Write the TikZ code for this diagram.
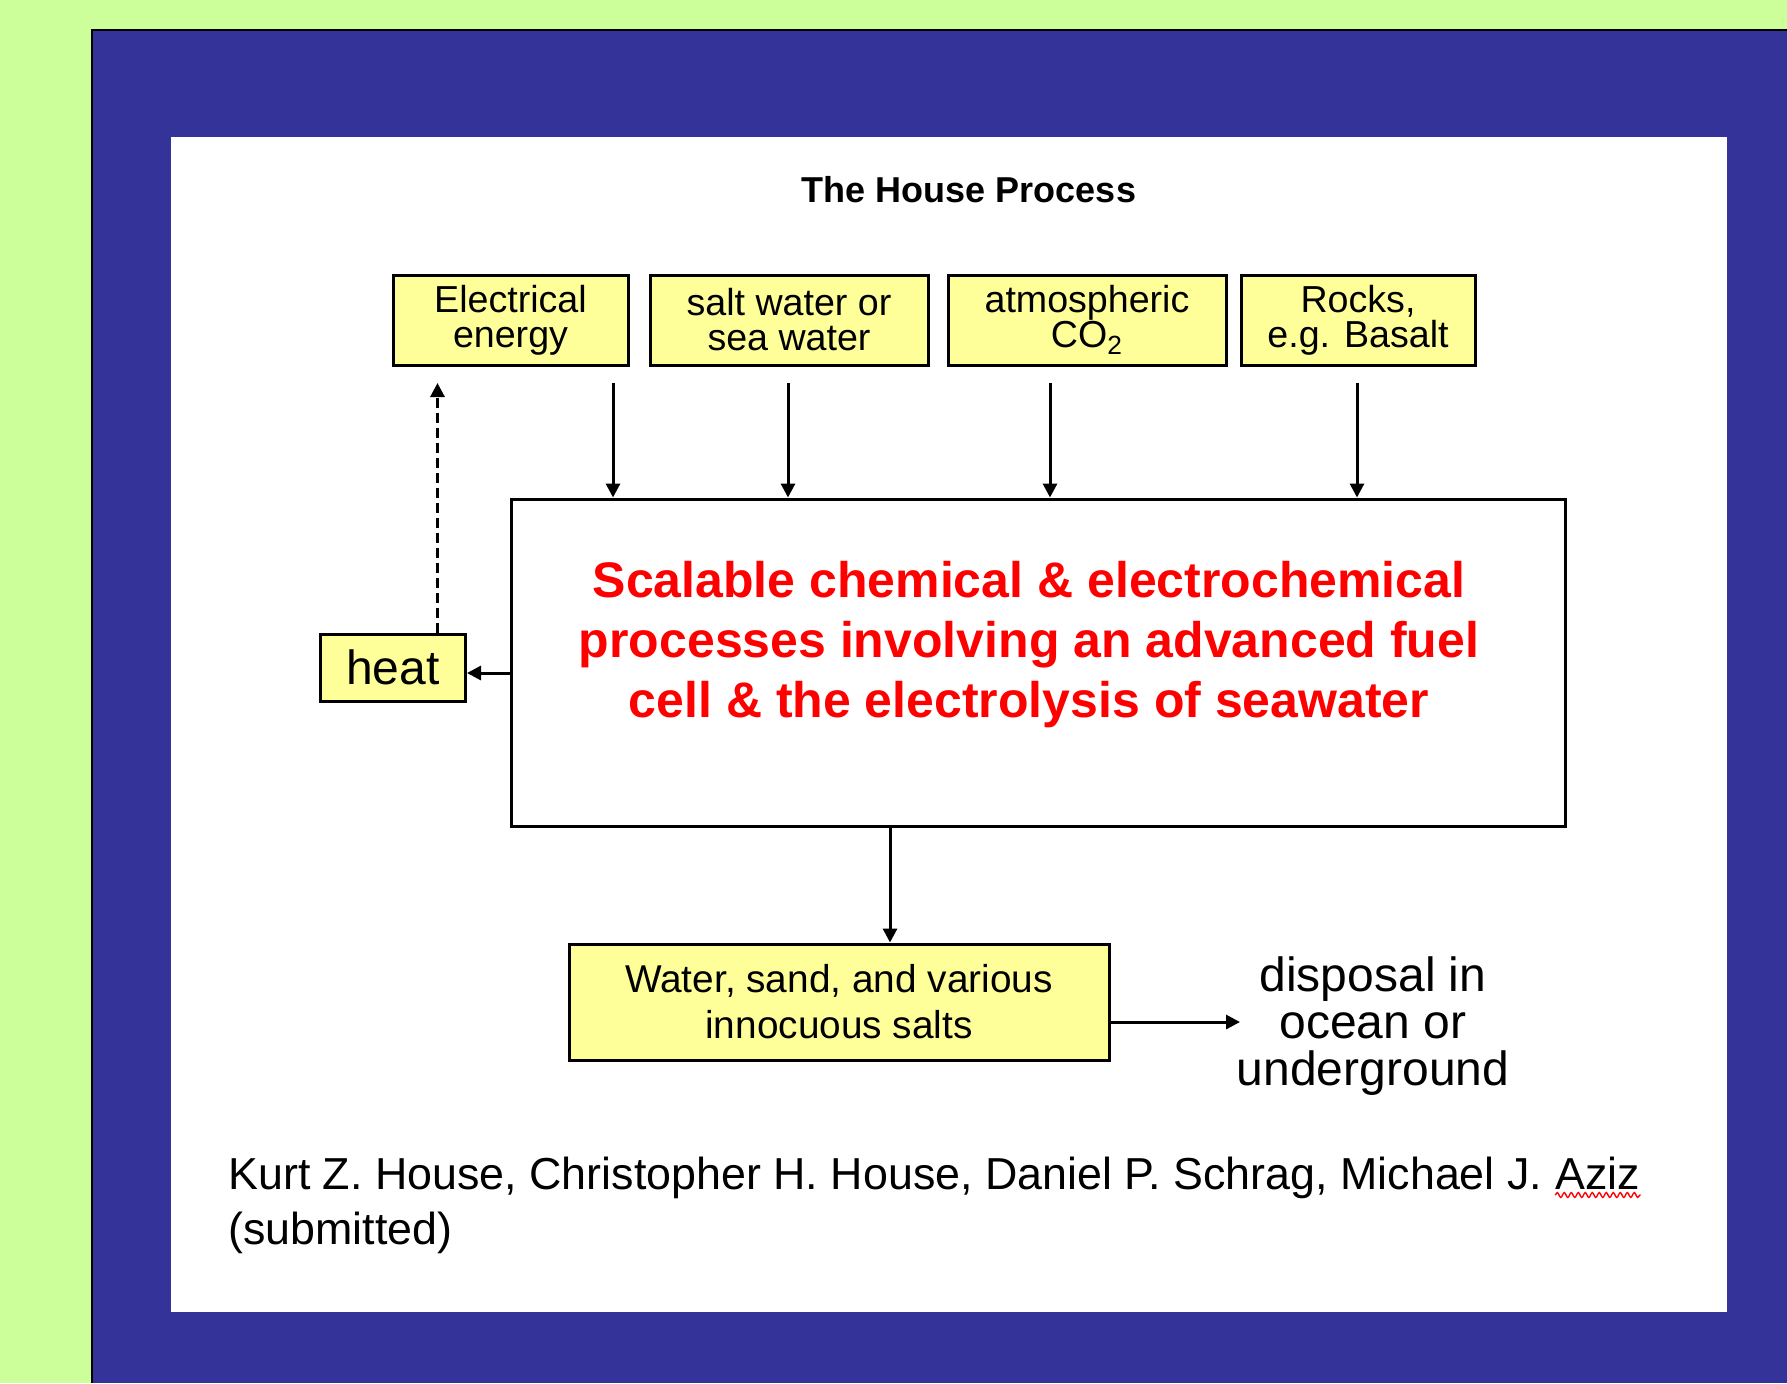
\documentclass[tikz,border=0pt]{standalone}
\usepackage{fontspec}
\setmainfont{Liberation Sans}
\usetikzlibrary{arrows.meta,decorations.pathmorphing}
\definecolor{bggreen}{HTML}{CCFF99}
\definecolor{panelblue}{HTML}{333399}
\definecolor{boxyellow}{HTML}{FFFF99}
\begin{document}
\begin{tikzpicture}[x=0.5pt,y=-0.5pt,
  inbox/.style={draw=black, line width=1.5pt, fill=boxyellow, align=center, inner sep=0pt, font=\fontsize{18.8}{17.5}\selectfont},
  arr/.style={line width=1.5pt, -{Triangle[width=7pt,length=7pt]}},
  ]
\useasboundingbox (0,0) rectangle (1787,1383);
\fill[bggreen] (0,0) rectangle (1787,1383);
\fill[panelblue] (92,30) rectangle (1787,1383);
\draw[line width=1pt] (92,1383) -- (92,30) -- (1787,30);
\fill[white] (171,137) rectangle (1727,1312);

\node[font=\fontsize{18}{20}\selectfont\bfseries] (title) at (969,190) {The House Process};

\node[inbox, minimum width=117.5pt, minimum height=45pt] (elec) at (510.5,320) {Electrical\\energy};
\node[inbox, minimum width=139pt, minimum height=45pt] (salt) at (789,320) {salt water or\\sea water};
\node[inbox, minimum width=139pt, minimum height=45pt] (atm) at (1087,320) {atmospheric\\CO\textsubscript{2}};
\node[inbox, minimum width=117pt, minimum height=45pt] (rocks) at (1358,320) {Rocks,\\e.g. Basalt};

\node[draw, line width=1.5pt, minimum width=527pt, minimum height=163.5pt, inner sep=0pt] (main) at (1038,662.5) {};
\node[text=red, font=\fontsize{25}{30}\selectfont\bfseries, align=center] (proc) at (1029,645) {Scalable chemical \& electrochemical\\processes involving an advanced fuel\\cell \& the electrolysis of seawater};

\node[inbox, minimum width=72.5pt, minimum height=33.5pt, font=\fontsize{24}{28}\selectfont] (heat) at (393,667.5) {heat};

\node[inbox, minimum width=270pt, minimum height=58pt, font=\fontsize{19.4}{23}\selectfont] (out) at (839,1002) {Water, sand, and various\\innocuous salts};

\node[align=center, font=\fontsize{24}{23.5}\selectfont, inner sep=0pt] (disp) at (1373,1026) {disposal in\\ocean or\\underground};

% input arrows
\coordinate (a1) at (613,383);
\coordinate (a2) at (788,383);
\coordinate (a3) at (1050,383);
\coordinate (a4) at (1357,383);
\draw[arr] (a1) -- (main.north -| a1);
\draw[arr] (a2) -- (main.north -| a2);
\draw[arr] (a3) -- (main.north -| a3);
\draw[arr] (a4) -- (main.north -| a4);

% heat
\coordinate (hy) at (0,673);
\draw[arr] (main.west |- hy) -- (heat.east |- hy);
\coordinate (eup) at (437.5,383);
\draw[arr, dashed, dash pattern=on 5pt off 2.5pt] (heat.north -| eup) -- (eup);

% output
\coordinate (dn) at (890,0);
\draw[arr] (main.south -| dn) -- (out.north -| dn);
\coordinate (dispin) at (1240,1022);
\draw[arr] (out.east |- dispin) -- (dispin);

% citation
\node[anchor=base west, inner sep=0pt, font=\fontsize{22.4}{27.5}\selectfont] (cite1) at (228,1189) {Kurt Z. House, Christopher H. House, Daniel P. Schrag, Michael J.};
\node[anchor=base west, inner sep=0pt, font=\fontsize{22.4}{27.5}\selectfont] (aziz) at ([xshift=6.2pt]cite1.base east) {Aziz};
\node[anchor=base west, inner sep=0pt, font=\fontsize{22.4}{27.5}\selectfont] (cite2) at (228,1244) {(submitted)};
\draw[red, line width=0.7pt, decorate, decoration={snake, amplitude=1.2pt, segment length=3.5pt}] ([yshift=-3pt]aziz.base west) -- ([yshift=-3pt]aziz.base east);
\end{tikzpicture}
\end{document}
